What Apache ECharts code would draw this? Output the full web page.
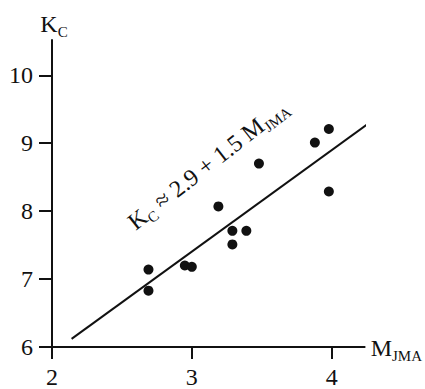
<!DOCTYPE html>
<html>
<head>
<meta charset="utf-8">
<script src="https://cdn.jsdelivr.net/npm/echarts@6/dist/echarts.min.js"></script>
<style>
  html, body { margin: 0; padding: 0; background: #fff; }
  #main { width: 425px; height: 389px; }
</style>
</head>
<body>
<div id="main"></div>
<script>
// 观测点 (M_JMA, K_C)
var magnitudes = [2.69, 2.69, 2.95, 3.00, 3.19, 3.29, 3.39, 3.29, 3.48, 3.88, 3.98, 3.98];
var kcValues   = [7.14, 6.83, 7.20, 7.18, 8.07, 7.71, 7.71, 7.51, 8.70, 9.01, 9.21, 8.29];
// 拟合直线两端
var fitM = [2.14, 4.27];
var fitK = [6.12, 9.30];
// 刻度
var xTicks = [2, 3, 4];
var yTicks = [6, 7, 8, 9, 10];

var serif = '"Liberation Serif", "DejaVu Serif", serif';
var ink = '#111';

var points = magnitudes.map(function (m, i) { return [m, kcValues[i]]; });
var fitLine = fitM.map(function (m, i) { return [m, fitK[i]]; });
var noteAt = [3.11, 8.70];

var subRich = {
  a: { fontFamily: serif, fontSize: 24, color: ink, lineHeight: 26, verticalAlign: 'bottom',
       textBorderWidth: 0, textBorderColor: 'transparent' },
  b: { fontFamily: serif, fontSize: 15, color: ink, lineHeight: 26, verticalAlign: 'bottom', padding: [0, 0, -3, 0],
       textBorderWidth: 0, textBorderColor: 'transparent' }
};

var myChart = echarts.init(document.getElementById('main'), null, { renderer: 'svg' });
myChart.setOption({
  animation: false,
  grid: { left: 52, top: 40, width: 313, height: 312 },
  xAxis: {
    type: 'value',
    min: 2,
    max: 4.236,
    name: '{a|M}{b|JMA}',
    nameLocation: 'end',
    nameGap: 6,
    nameTextStyle: { rich: subRich },
    axisLine: { lineStyle: { color: ink, width: 2 } },
    axisTick: { show: true, length: 12, lineStyle: { color: ink, width: 2 }, customValues: xTicks },
    axisLabel: { fontFamily: serif, fontSize: 24, color: ink, margin: 18, customValues: xTicks },
    splitLine: { show: false }
  },
  yAxis: {
    type: 'value',
    min: 6,
    max: 10.52,
    name: '{a|K}{b|C}',
    nameLocation: 'end',
    nameGap: 4,
    nameTextStyle: { rich: subRich, padding: [0, 0, 0, 4] },
    axisLine: { lineStyle: { color: ink, width: 2 } },
    axisTick: { show: true, length: 13, lineStyle: { color: ink, width: 2 }, customValues: yTicks },
    axisLabel: { fontFamily: serif, fontSize: 24, color: ink, margin: 19, customValues: yTicks },
    splitLine: { show: false }
  },
  series: [
    {
      type: 'line',
      data: fitLine,
      symbol: 'none',
      lineStyle: { color: ink, width: 2 },
      silent: true
    },
    {
      type: 'scatter',
      data: points,
      symbol: 'circle',
      symbolSize: 10,
      itemStyle: { color: ink, opacity: 1 }
    },
    {
      type: 'scatter',
      data: [noteAt],
      symbolSize: 0,
      silent: true,
      itemStyle: { color: ink, opacity: 1 },
      label: {
        show: true,
        position: 'inside',
        rotate: 38,
        color: ink,
        textBorderWidth: 0,
        textBorderColor: 'transparent',
        formatter: '{a|K}{b|C}{a| ≈ 2.9 + 1.5 M}{b|JMA}',
        rich: subRich
      }
    }
  ]
});
</script>
</body>
</html>
